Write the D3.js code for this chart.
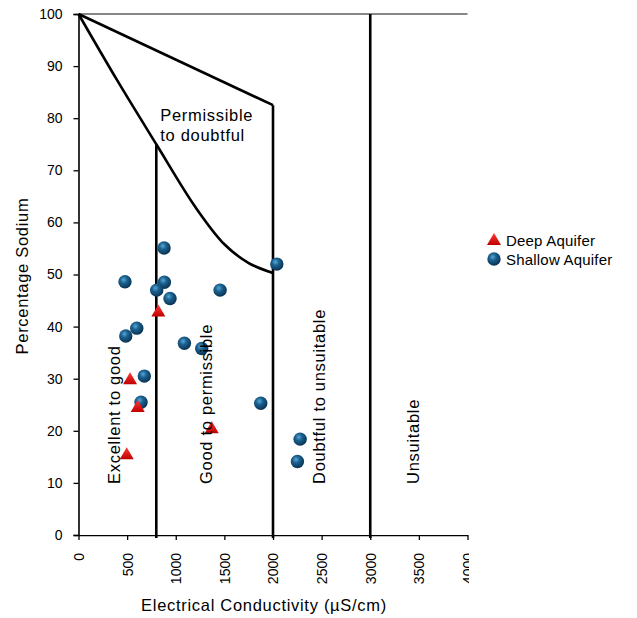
<!DOCTYPE html>
<html lang="en">
<head>
	<meta charset="UTF-8">
	<title>Percentage Sodium vs EC</title>
	<style>
		body { margin:0; background:#fff; }
		text { font-family: "Liberation Sans", Arial, sans-serif; fill:#000; }
	</style>
</head>
<body>
	<svg></svg>
	<script src="https://d3js.org/d3.v7.min.js"></script>
	<script>
		// data
		var deepEC = [821, 530, 609, 496, 1370];
		var deepNa = [42.9, 29.9, 24.6, 15.5, 20.5];

		var shallowEC = [880, 478, 883, 804, 941, 1456, 599, 486, 1089, 1267, 677, 643, 1874, 2279, 2251, 2039];
		var shallowNa = [55.1, 48.6, 48.5, 47.0, 45.4, 47.0, 39.7, 38.2, 36.8, 35.8, 30.5, 25.5, 25.3, 18.4, 14.1, 52.0];

		// class boundaries (EC, %Na)
		var upperBound = [[0, 100], [2000, 82.5]];
		var lowerBound = [[0, 100], [400, 87.2], [800, 75], [1200, 63], [1500, 55.8], [1750, 52.2], [2000, 50.3]];
		var verticals = [[800, 75], [2000, 82.5], [3000, 100]];

		var xTicks = [0, 500, 1000, 1500, 2000, 2500, 3000, 3500, 4000];
		var yTicks = [0, 10, 20, 30, 40, 50, 60, 70, 80, 90, 100];

		var zoneNames = ["Excellent to good", "Good to permissible", "Doubtful to unsuitable", "Unsuitable"];
		var zoneEC = [430, 1370, 2530, 3500];
		var legendNames = ["Deep Aquifer", "Shallow Aquifer"];

		var svg = d3.select("svg")
			.attr("width", 637)
			.attr("height", 618);

		var defs = svg.append("defs");
		var rg = defs.append("radialGradient").attr("id", "ball")
			.attr("cx", "40%").attr("cy", "35%").attr("r", "65%");
		rg.append("stop").attr("offset", "0%").attr("stop-color", "#5aa6d4");
		rg.append("stop").attr("offset", "40%").attr("stop-color", "#1b6190");
		rg.append("stop").attr("offset", "100%").attr("stop-color", "#093352");
		var lg = defs.append("linearGradient").attr("id", "tri")
			.attr("x1", 0).attr("y1", 0).attr("x2", 0).attr("y2", 1);
		lg.append("stop").attr("offset", "0%").attr("stop-color", "#ff3a3a");
		lg.append("stop").attr("offset", "100%").attr("stop-color", "#c00000");
		defs.append("clipPath").attr("id", "xclip")
			.append("rect").attr("x", 0).attr("y", 0).attr("width", 469).attr("height", 618);

		var x = d3.scaleLinear().domain([0, 4000]).range([78.5, 467.5]);
		var y = d3.scaleLinear().domain([0, 100]).range([535, 14]);

		// top frame line
		svg.append("line")
			.attr("x1", x(0)).attr("x2", x(4000))
			.attr("y1", y(100)).attr("y2", y(100))
			.attr("stroke", "#111").attr("stroke-width", 1.2);

		// axes
		var yAxis = svg.append("g")
			.attr("transform", "translate(" + x(0) + ",0)")
			.call(d3.axisLeft(y).tickValues(yTicks).tickFormat(d3.format("d")).tickSize(5).tickPadding(11));
		yAxis.select(".domain").attr("stroke-width", 1.6);
		yAxis.selectAll(".tick line").attr("stroke-width", 1.3);
		yAxis.selectAll("text").attr("font-size", "14px").attr("font-family", null);

		var xAxis = svg.append("g")
			.attr("transform", "translate(0," + y(0) + ")")
			.attr("clip-path", "url(#xclip)")
			.call(d3.axisBottom(x).tickValues(xTicks).tickFormat(d3.format("d")).tickSize(5).tickSizeOuter(0));
		xAxis.select(".domain").attr("stroke-width", 1.6);
		xAxis.selectAll(".tick line").attr("stroke-width", 1.3);
		xAxis.selectAll("text")
			.attr("font-size", "14px").attr("font-family", null)
			.attr("text-anchor", "end")
			.attr("dy", "0.35em")
			.attr("y", 0)
			.attr("transform", "translate(0,18) rotate(-90)");

		// boundary lines
		var line = d3.line().x(function(d){ return x(d[0]); }).y(function(d){ return y(d[1]); });
		svg.append("path").datum(upperBound)
			.attr("d", line)
			.attr("fill", "none").attr("stroke", "#000").attr("stroke-width", 2.6);
		svg.append("path").datum(lowerBound)
			.attr("d", line.curve(d3.curveCatmullRom))
			.attr("fill", "none").attr("stroke", "#000").attr("stroke-width", 2.6);
		svg.selectAll(".vline")
			.data(verticals)
			.enter()
			.append("line")
			.attr("class", "vline")
			.attr("x1", function(d){ return x(d[0]); })
			.attr("x2", function(d){ return x(d[0]); })
			.attr("y1", function(d){ return y(d[1]); })
			.attr("y2", y(0) + 3)
			.attr("stroke", "#000").attr("stroke-width", 2.6);

		// shallow aquifer
		svg.selectAll(".ball")
			.data(shallowEC)
			.enter()
			.append("circle")
			.attr("class", "ball")
			.attr("cx", function(d){ return x(d); })
			.attr("cy", function(d, i){ return y(shallowNa[i]); })
			.attr("r", 6.7)
			.attr("fill", "url(#ball)");

		// deep aquifer
		var triangle = d3.symbol().type(d3.symbolTriangle).size(85);
		svg.selectAll(".tri")
			.data(deepEC)
			.enter()
			.append("path")
			.attr("class", "tri")
			.attr("d", triangle)
			.attr("transform", function(d, i){ return "translate(" + x(d) + "," + (y(deepNa[i]) + 1) + ")"; })
			.attr("fill", "url(#tri)");

		// zone labels
		svg.selectAll(".zone")
			.data(zoneNames)
			.enter()
			.append("text")
			.attr("class", "zone")
			.attr("transform", function(d, i){ return "translate(" + x(zoneEC[i]) + "," + y(9.8) + ") rotate(-90)"; })
			.style("font-size", "16.5px")
			.style("letter-spacing", "0.7px")
			.text(function(d){ return d; });

		var pd = svg.append("text")
			.attr("x", x(840))
			.attr("y", y(79.4))
			.style("font-size", "16.5px")
			.style("letter-spacing", "0.7px");
		pd.append("tspan").attr("x", x(840)).text("Permissible");
		pd.append("tspan").attr("x", x(840)).attr("dy", 20).text("to doubtful");

		// axis titles
		svg.append("text")
			.attr("x", 264).attr("y", 611)
			.attr("text-anchor", "middle")
			.style("font-size", "16.5px")
			.style("letter-spacing", "0.7px")
			.text("Electrical Conductivity (µS/cm)");
		svg.append("text")
			.attr("transform", "translate(28,276) rotate(-90)")
			.attr("text-anchor", "middle")
			.style("font-size", "16.5px")
			.style("letter-spacing", "0.7px")
			.text("Percentage Sodium");

		// legend
		var legend = svg.append("g").attr("transform", "translate(494,240)");
		legend.append("path")
			.attr("d", triangle)
			.attr("transform", "translate(0,1)")
			.attr("fill", "url(#tri)");
		legend.append("circle")
			.attr("cx", 0).attr("cy", 19).attr("r", 6.7)
			.attr("fill", "url(#ball)");
		legend.selectAll(".lt")
			.data(legendNames)
			.enter()
			.append("text")
			.attr("class", "lt")
			.attr("x", 12)
			.attr("y", function(d, i){ return 6 + i * 19; })
			.style("font-size", "15px")
			.style("letter-spacing", "0.2px")
			.text(function(d){ return d; });
	</script>
</body>
</html>
